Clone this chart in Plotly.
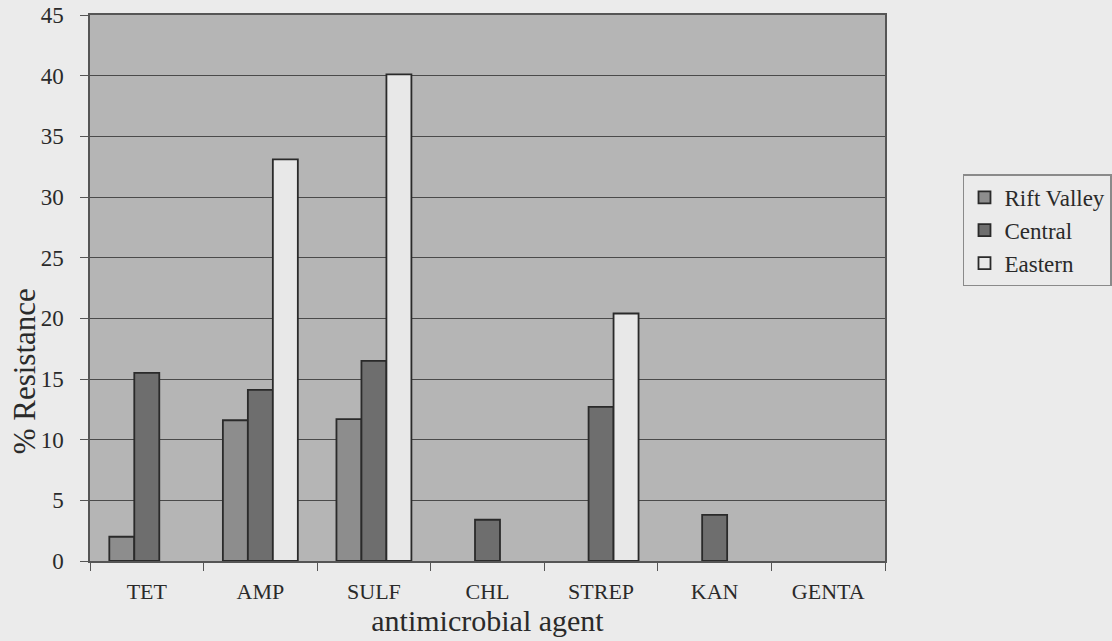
import plotly.graph_objects as go

agents = ["TET", "AMP", "SULF", "CHL", "STREP", "KAN", "GENTA"]
rift_valley = [2.0, 11.6, 11.7, 0, 0, 0, 0]
central = [15.5, 14.1, 16.5, 3.4, 12.7, 3.8, 0]
eastern = [0, 33.1, 40.1, 0, 20.4, 0, 0]

series = [
    ("Rift Valley", rift_valley, "#8d8d8d"),
    ("Central", central, "#6e6e6e"),
    ("Eastern", eastern, "#e8e8e8"),
]

font_family = "Liberation Serif, Times New Roman, serif"

fig = go.Figure()
for name, vals, color in series:
    # a zero percentage is left empty so no outlined sliver is drawn
    shown = [v if v > 0 else None for v in vals]
    fig.add_trace(go.Bar(
        x=agents, y=shown, name=name,
        marker=dict(color=color, line=dict(color="#2a2a2a", width=1.8)),
    ))

fig.update_layout(
    width=1112, height=641,
    margin=dict(l=90, r=227, t=15, b=80, autoexpand=False),
    paper_bgcolor="#ebebeb",
    plot_bgcolor="#b5b5b5",
    barmode="group",
    bargap=0.34,
    bargroupgap=0,
    font=dict(family=font_family, color="#2a2a2a"),
    showlegend=True,
    legend=dict(
        xref="container", yref="container",
        x=0.866, y=0.728, xanchor="left", yanchor="top",
        bgcolor="rgba(0,0,0,0)", bordercolor="#8a8a8a", borderwidth=1.5,
        font=dict(size=23, family=font_family),
        itemwidth=30,
    ),
    xaxis=dict(
        title=dict(text="antimicrobial agent", font=dict(size=30), standoff=2),
        tickfont=dict(size=22),
        ticks="outside", tickson="boundaries", ticklen=8, tickcolor="#555",
        ticklabelstandoff=10,
        showline=True, linecolor="#555", linewidth=1.5, mirror=True,
        automargin=False,
    ),
    yaxis=dict(
        range=[0, 45], dtick=5,
        tickfont=dict(size=23),
        ticks="outside", ticklen=8, tickcolor="#555",
        ticklabelstandoff=12,
        showgrid=True, gridcolor="#4a4a4a", gridwidth=1,
        showline=True, linecolor="#555", linewidth=1.5, mirror=True,
        zeroline=False, automargin=False,
    ),
    annotations=[dict(
        text="% Resistance", textangle=-90,
        xref="paper", yref="paper", x=-0.082, y=0.347,
        xanchor="center", yanchor="middle", showarrow=False,
        font=dict(size=31, family=font_family, color="#2a2a2a"),
    )],
)

fig.write_html("out.html")
